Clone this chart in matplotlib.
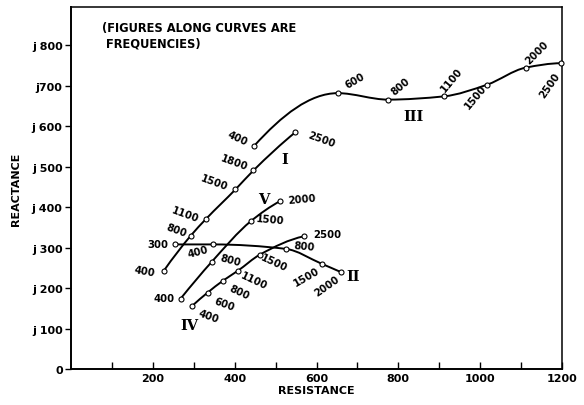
import numpy as np
import matplotlib
matplotlib.use("Agg")
from matplotlib import pyplot as plt
from matplotlib.path import Path
from matplotlib.patches import PathPatch

# values: resistance, reactance (j), frequency at each point
freq_1 = [400, 800, 1100, 1500, 1800, 2500]
res_1 = [227, 293, 330, 402, 446, 548]
reac_1 = [243, 330, 371, 444, 491, 585]

freq_2 = [300, 400, 800, 1500, 2000]
res_2 = [253, 348, 525, 613, 661]
reac_2 = [308, 308, 297, 260, 239]

freq_3 = [400, 600, 800, 1100, 1500, 2000, 2500]
res_3 = [448, 652, 775, 911, 1017, 1111, 1198]
reac_3 = [552, 682, 666, 674, 703, 745, 756]

freq_4 = [400, 600, 800, 1100, 1500, 2500]
res_4 = [295, 334, 371, 408, 462, 569]
reac_4 = [155, 189, 218, 243, 283, 328]

freq_5 = [400, 800, 1500, 2000]
res_5 = [268, 344, 439, 511]
reac_5 = [174, 265, 365, 415]

ytick_vals = [0, 100, 200, 300, 400, 500, 600, 700, 800]
ytick_text = ["0", "j 100", "j 200", "j 300", "j 400", "j 500", "j 600", "j700", "j 800"]
xtick_vals = [200, 400, 600, 800, 1000, 1200]

# label placement (offset pixels, rotation) for each point's frequency label
lab_1 = [(-19, 0, -10), (-15, 6, -20), (-21, 5, -20), (-21, 7, -20), (-19, 8, -20), (26, -7, -20)]
lab_2 = [(-17, 0, 0), (-15, -7, 15), (18, 3, -5), (-15, -13, 30), (-14, -13, 35)]
lab_3 = [(-17, 8, -25), (17, 13, 30), (12, 14, 40), (8, 17, 50), (-12, -12, 50), (11, 16, 45), (-11, -22, 55)]
lab_4 = [(17, -9, -20), (17, -11, -20), (16, -11, -25), (16, -10, -25), (14, -8, -25), (23, 2, 0)]
lab_5 = [(-17, 1, 0), (19, 2, -15), (20, 2, -5), (22, 2, 5)]


# smooth curve through the points (monotone cubic, drawn as bezier segments)
def slopes(x, y):
    h = np.diff(x)
    d = np.diff(y) / h
    m = np.zeros(len(x))
    for k in range(1, len(x) - 1):
        if d[k - 1] * d[k] <= 0:
            m[k] = 0.0
        else:
            w1 = 2 * h[k] + h[k - 1]
            w2 = h[k] + 2 * h[k - 1]
            m[k] = (w1 + w2) / (w1 / d[k - 1] + w2 / d[k])
    if len(x) == 2:
        m[0] = m[1] = d[0]
        return m
    for i, (h0, h1, d0, d1) in [(0, (h[0], h[1], d[0], d[1])), (-1, (h[-1], h[-2], d[-1], d[-2]))]:
        v = ((2 * h0 + h1) * d0 - h0 * d1) / (h0 + h1)
        if np.sign(v) != np.sign(d0):
            v = 0.0
        elif np.sign(d0) != np.sign(d1) and abs(v) > abs(3 * d0):
            v = 3 * d0
        m[i] = v
    return m


def curve_path(x, y):
    x = np.asarray(x, float)
    y = np.asarray(y, float)
    m = slopes(x, y)
    verts = [(x[0], y[0])]
    codes = [Path.MOVETO]
    for k in range(len(x) - 1):
        h = (x[k + 1] - x[k]) / 3
        verts += [(x[k] + h, y[k] + h * m[k]), (x[k + 1] - h, y[k + 1] - h * m[k + 1]), (x[k + 1], y[k + 1])]
        codes += [Path.CURVE4] * 3
    return Path(verts, codes)


fig = plt.figure(figsize=(5.84, 4.06), dpi=100)
ax = fig.add_axes([71 / 584, 36 / 406, 491 / 584, 362 / 406])
ax.set_xlim(0, 1200)
ax.set_ylim(0, 895)

num_font = dict(family="DejaVu Sans", fontsize=7.3, fontweight="bold")

for fq, rr, xx, lab in [(freq_1, res_1, reac_1, lab_1), (freq_2, res_2, reac_2, lab_2),
                        (freq_3, res_3, reac_3, lab_3), (freq_4, res_4, reac_4, lab_4),
                        (freq_5, res_5, reac_5, lab_5)]:
    ax.add_patch(PathPatch(curve_path(rr, xx), fill=False, edgecolor="black", lw=1.4, zorder=2))
    ax.plot(rr, xx, "o", ms=3.6, mfc="white", mec="black", mew=0.8, zorder=3, clip_on=False)
    for f, r, x, (dx, dy, rot) in zip(fq, rr, xx, lab):
        ax.annotate(str(f), (r, x), xytext=(dx, dy), textcoords="offset pixels",
                    ha="center", va="center", rotation=rot, **num_font)

# curve numbers
roman = dict(family="DejaVu Serif", fontsize=10.5, fontweight="bold")
ax.text(523, 519, "I", ha="center", va="center", **roman)
ax.text(690, 231, "II", ha="center", va="center", **roman)
ax.text(837, 626, "III", ha="center", va="center", **roman)
ax.text(289, 109, "IV", ha="center", va="center", **roman)
ax.text(470, 421, "V", ha="center", va="center", **roman)

ax.text(75, 825, "(FIGURES ALONG CURVES ARE\n FREQUENCIES)", ha="left", va="center",
        family="DejaVu Sans", fontsize=8.3, fontweight="bold", linespacing=1.3)

# axes
for s in ax.spines.values():
    s.set_linewidth(1.1)
ax.spines["left"].set_linewidth(1.4)
ax.spines["bottom"].set_linewidth(1.4)

ax.set_yticks(ytick_vals)
ax.set_yticklabels(ytick_text)
ax.tick_params(axis="y", direction="out", length=4, width=1, pad=2, labelsize=8)
ax.set_xticks(xtick_vals)
ax.set_xticks([100, 300, 500, 700, 900, 1100], minor=True)
ax.tick_params(axis="x", which="both", direction="in", length=5, width=1, pad=3, labelsize=8)
for t in ax.get_xticklabels() + ax.get_yticklabels():
    t.set_fontweight("bold")

ax.set_xlabel("RESISTANCE", fontsize=8, fontweight="bold", labelpad=1)
ax.set_ylabel("REACTANCE", fontsize=8, fontweight="bold", labelpad=8)

fig.savefig("out.png", dpi=100)
